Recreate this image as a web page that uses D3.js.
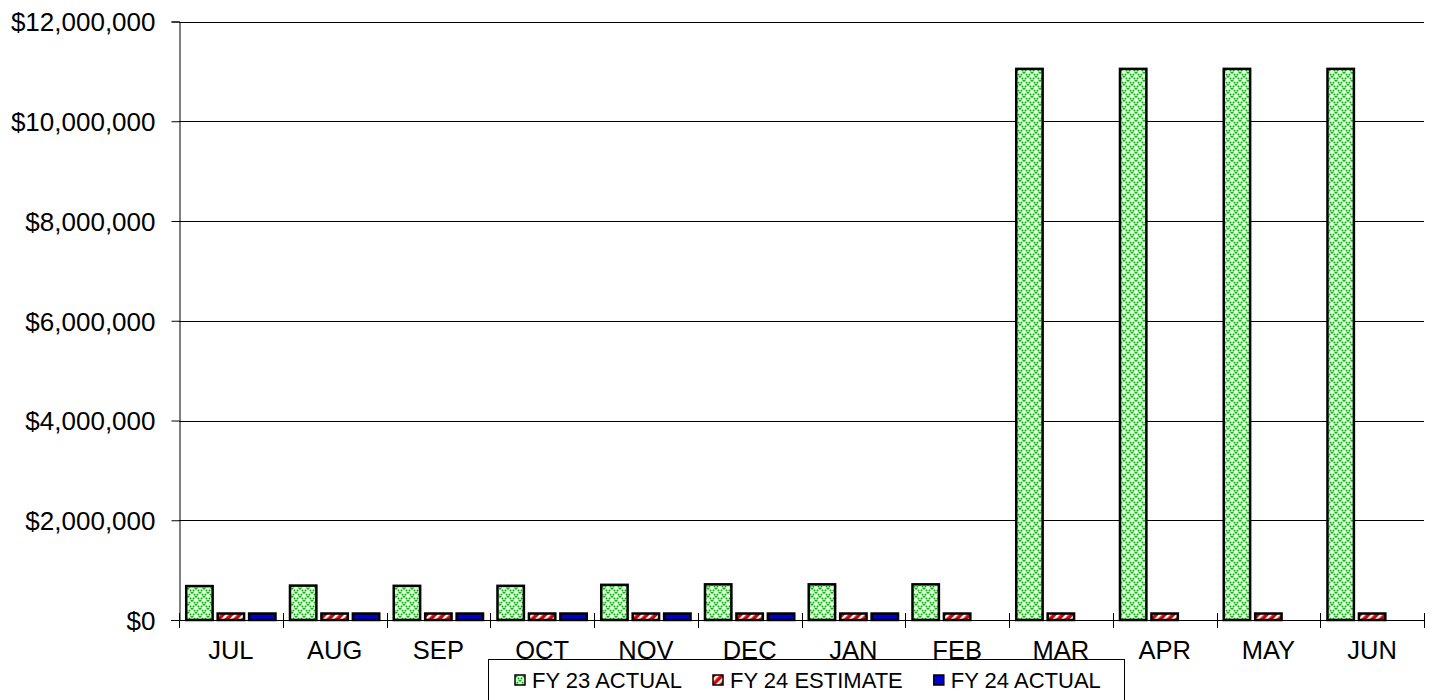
<!DOCTYPE html>
<html>
<head>
<meta charset="utf-8">
<script src="https://cdn.jsdelivr.net/npm/d3@7"></script>
<style>
  body { margin: 0; background: #fff; }
  svg text { font-family: "Liberation Sans", Arial, sans-serif; fill: #000; }
</style>
</head>
<body>
<div id="chart"></div>
<script>
const months = ['JUL', 'AUG', 'SEP', 'OCT', 'NOV', 'DEC', 'JAN', 'FEB', 'MAR', 'APR', 'MAY', 'JUN'];
const seriesNames = ['FY 23 ACTUAL', 'FY 24 ESTIMATE', 'FY 24 ACTUAL'];
const fy23Actual = [680000, 690000, 685000, 685000, 705000, 715000, 715000, 715000, 11050000, 11050000, 11050000, 11050000];
const fy24Estimate = [130000, 130000, 130000, 130000, 130000, 130000, 130000, 130000, 130000, 130000, 130000, 130000];
const fy24Actual = [130000, 130000, 130000, 130000, 130000, 130000, 130000, null, null, null, null, null];
const yTicks = [0, 2000000, 4000000, 6000000, 8000000, 10000000, 12000000];

const width = 1436, height = 700;
const plotLeft = 179, plotRight = 1424, plotTop = 21.5, plotBottom = 620;

const svg = d3.select('#chart').append('svg')
    .attr('width', width)
    .attr('height', height);

// fill patterns
const defs = svg.append('defs');
const pg = defs.append('pattern')
    .attr('id', 'pat-green')
    .attr('patternUnits', 'userSpaceOnUse')
    .attr('width', 8).attr('height', 8);
pg.append('rect').attr('width', 8).attr('height', 8).attr('fill', '#dcf7dc');
pg.append('path')
    .attr('d', 'M0,0L8,8M8,0L0,8')
    .attr('stroke', '#10b010')
    .attr('stroke-width', 1.6)
    .attr('stroke-dasharray', '1.6 1.2');

const pr = defs.append('pattern')
    .attr('id', 'pat-red')
    .attr('patternUnits', 'userSpaceOnUse')
    .attr('width', 6).attr('height', 6)
    .attr('patternTransform', 'rotate(45)');
pr.append('rect').attr('width', 6).attr('height', 6).attr('fill', '#e00000');
pr.append('rect').attr('width', 2.4).attr('height', 6).attr('fill', '#fff');

const fills = ['url(#pat-green)', 'url(#pat-red)', '#0000cc'];
const seriesData = [fy23Actual, fy24Estimate, fy24Actual];

const x = d3.scaleBand().domain(months).range([plotLeft, plotRight]).paddingInner(0).paddingOuter(0);
const x1 = d3.scaleBand().domain(d3.range(3)).range([0, x.bandwidth()]).paddingInner(0.16).paddingOuter(0.23);
const y = d3.scaleLinear().domain([0, 12000000]).range([plotBottom, plotTop]);

// gridlines
svg.append('g')
    .selectAll('line')
    .data(yTicks.filter(d => d > 0))
    .join('line')
    .attr('x1', plotLeft).attr('x2', plotRight)
    .attr('y1', d => Math.round(y(d)) + 0.5)
    .attr('y2', d => Math.round(y(d)) + 0.5)
    .attr('stroke', '#000')
    .attr('stroke-width', 1);

// y axis
const yAxis = svg.append('g')
    .attr('transform', `translate(${plotLeft + 0.5},0)`)
    .call(d3.axisLeft(y).tickValues(yTicks).tickFormat(d3.format('$,')).tickSize(8).tickPadding(16));
yAxis.select('.domain').attr('stroke', '#000');
yAxis.selectAll('.tick line').attr('stroke', '#000');
yAxis.selectAll('.tick text').attr('font-size', 26).attr('dy', '0.36em');

// bars
months.forEach((m, i) => {
    seriesData.forEach((s, j) => {
        if (s[i] == null) return;
        svg.append('rect')
            .attr('x', x(m) + x1(j))
            .attr('y', y(s[i]))
            .attr('width', x1.bandwidth())
            .attr('height', y(0) - y(s[i]))
            .attr('fill', fills[j])
            .attr('stroke', '#000')
            .attr('stroke-width', 2.5);
    });
});

// x axis: cross ticks at band edges
const xg = svg.append('g');
xg.append('line')
    .attr('x1', plotLeft - 8).attr('x2', plotRight)
    .attr('y1', plotBottom + 0.5).attr('y2', plotBottom + 0.5)
    .attr('stroke', '#000');
xg.selectAll('.xt')
    .data(d3.range(months.length + 1))
    .join('line')
    .attr('class', 'xt')
    .attr('x1', d => Math.round(plotLeft + d * x.step()) + 0.5)
    .attr('x2', d => Math.round(plotLeft + d * x.step()) + 0.5)
    .attr('y1', plotBottom - 7).attr('y2', plotBottom + 8)
    .attr('stroke', '#000');
xg.selectAll('.xl')
    .data(months)
    .join('text')
    .attr('class', 'xl')
    .attr('x', d => x(d) + x.bandwidth() / 2)
    .attr('y', 659)
    .attr('text-anchor', 'middle')
    .attr('font-size', 25.5)
    .text(d => d);

// legend
const lg = svg.append('g');
lg.append('rect')
    .attr('x', 488.5).attr('y', 659.5)
    .attr('width', 636).attr('height', 60)
    .attr('fill', '#fff')
    .attr('stroke', '#000');
let lx = 515;
seriesNames.forEach((name, j) => {
    lg.append('rect')
        .attr('x', lx).attr('y', 675)
        .attr('width', 10).attr('height', 10)
        .attr('fill', fills[j])
        .attr('stroke', '#000')
        .attr('stroke-width', 1.5);
    const t = lg.append('text')
        .attr('x', lx + 17)
        .attr('y', 688)
        .attr('font-size', 22)
        .text(name);
    lx += 17 + t.node().getComputedTextLength() + 31;
});
</script>
</body>
</html>
